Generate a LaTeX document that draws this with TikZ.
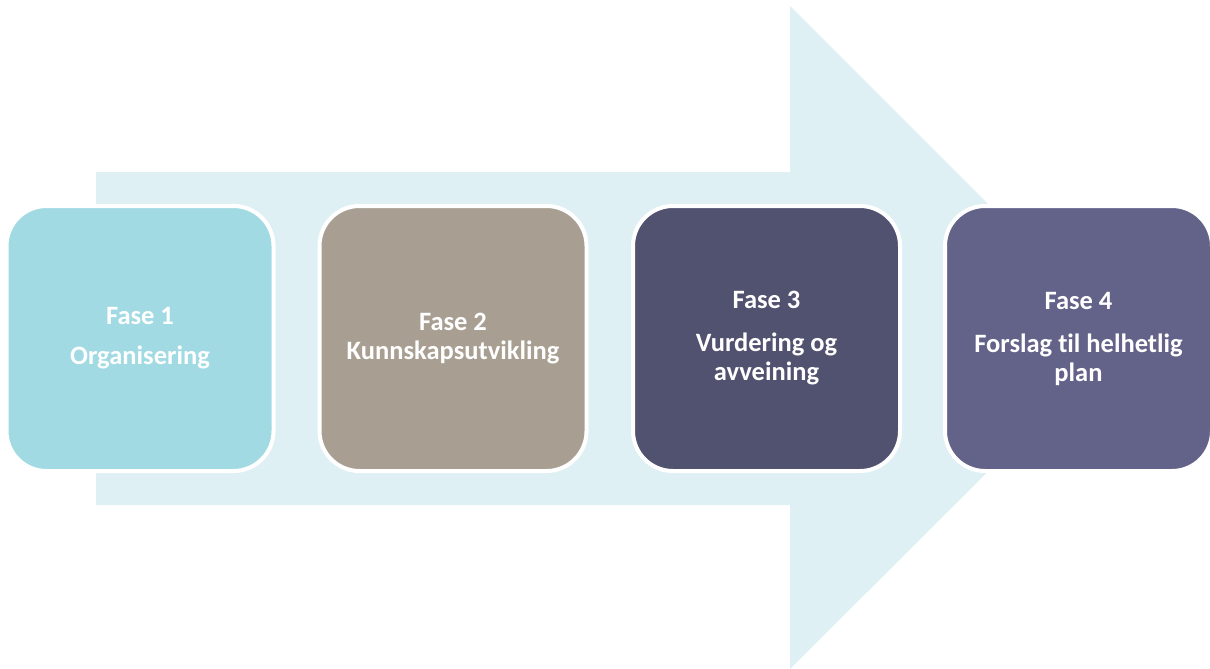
\documentclass[tikz,border=0pt]{standalone}
\usepackage{fontspec}
\setmainfont[Ligatures=NoCommon]{Carlito}
\definecolor{arrowbg}{HTML}{DFF0F4}
\definecolor{c1}{HTML}{A1DAE3}
\definecolor{c2}{HTML}{A89F92}
\definecolor{c3}{HTML}{515170}
\definecolor{c4}{HTML}{63638A}
\begin{document}
\begin{tikzpicture}[x=1pt,y=-1pt,
  phase/.style={draw=white,line width=4pt,rounded corners=40pt,minimum width=267pt,minimum height=265pt,
    text=white,align=center,inner sep=0pt,font=\fontsize{26.5}{29}\selectfont\bfseries}]
\useasboundingbox (0,0) rectangle (1210,669);
\fill[arrowbg] (96,172) -- (790,172) -- (790,6) -- (1122,338) -- (790,669) -- (790,505) -- (96,505) -- cycle;
\node[phase,fill=c1] (f1) at (140,338.5) {Fase 1\\[11pt]Organisering};
\node[phase,fill=c2] (f2) at (453,338.5) {Fase 2\\Kunnskapsutvikling};
\node[phase,fill=c3] (f3) at (766.5,338.5) {Fase 3\\[14pt]Vurdering og\\avveining};
\node[phase,fill=c4] (f4) at (1078.5,338.5) {Fase 4\\[14pt]Forslag til helhetlig\\plan};
\end{tikzpicture}
\end{document}
